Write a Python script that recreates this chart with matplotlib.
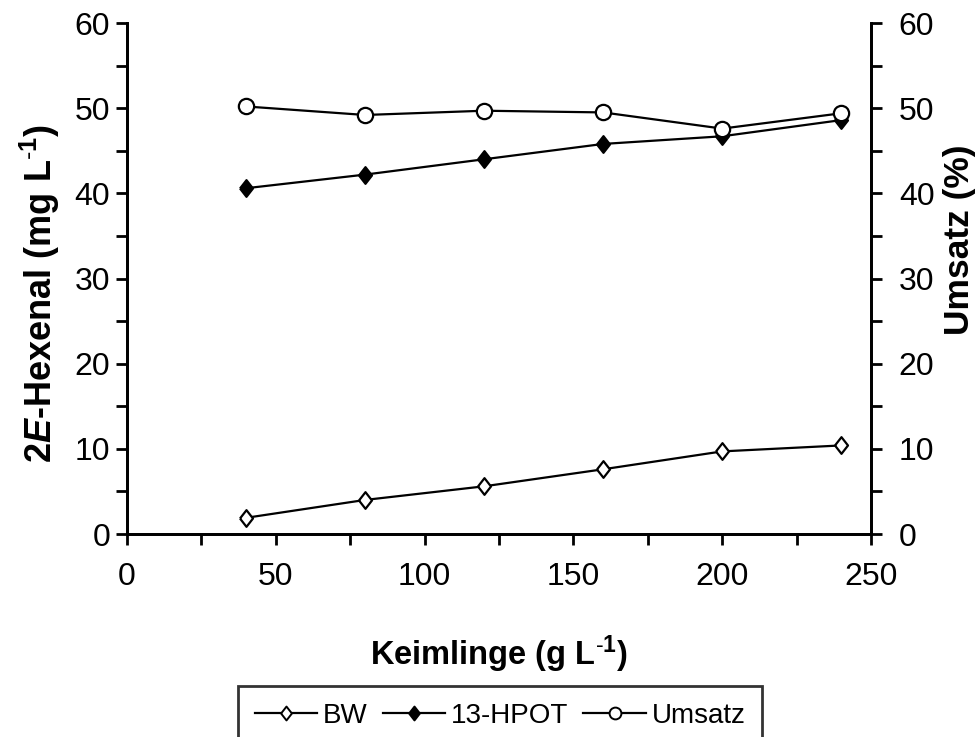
import matplotlib
matplotlib.use("Agg")
import matplotlib.pyplot as plt
from matplotlib.ticker import MultipleLocator
from matplotlib.lines import Line2D

plt.rcParams['font.family'] = ['Liberation Sans', 'DejaVu Sans']
plt.rcParams['mathtext.fontset'] = 'custom'
plt.rcParams['mathtext.rm'] = 'Liberation Sans'
plt.rcParams['mathtext.bf'] = 'Liberation Sans:bold'
plt.rcParams['mathtext.it'] = 'Liberation Sans:italic'
plt.rcParams['mathtext.bfit'] = 'Liberation Sans:bold:italic'

keimlinge = [40, 80, 120, 160, 200, 240]
bw = [1.9, 4.0, 5.6, 7.6, 9.7, 10.4]
hpot = [40.6, 42.2, 44.0, 45.8, 46.7, 48.6]
umsatz = [50.2, 49.2, 49.7, 49.5, 47.6, 49.4]

W, H = 979, 737
fig = plt.figure(figsize=(W/100, H/100), dpi=100)
ax = fig.add_axes([127/W, 1-534/H, (871-127)/W, (534-23)/H])
ax2 = ax.twinx()

diamond = [(-0.78, 0), (0, 1), (0.78, 0), (0, -1), (-0.78, 0)]
lw = 1.6
l1, = ax.plot(keimlinge, bw, color='black', lw=lw, marker=diamond, ms=12,
              mfc='white', mec='black', mew=1.6, label='BW')
l2, = ax.plot(keimlinge, hpot, color='black', lw=lw, marker=diamond, ms=12,
              mfc='black', mec='black', mew=1.6, label='13-HPOT')
l3, = ax2.plot(keimlinge, umsatz, color='black', lw=lw, marker='o', ms=11,
               mfc='white', mec='black', mew=1.6, label='Umsatz')

for a in (ax, ax2):
    a.set_ylim(0, 60)
    a.yaxis.set_major_locator(MultipleLocator(10))
    a.yaxis.set_minor_locator(MultipleLocator(5))
    for s in a.spines.values():
        s.set_linewidth(2)
    a.tick_params(which='both', direction='out', width=2, labelsize=23)
    a.tick_params(which='major', length=8)
    a.tick_params(which='minor', length=8)
ax.set_xlim(0, 250)
ax.xaxis.set_major_locator(MultipleLocator(50))
ax.xaxis.set_minor_locator(MultipleLocator(25))
ax.tick_params(axis='x', pad=12)
ax.tick_params(axis='y', pad=4)
ax2.tick_params(axis='y', pad=12)
ax.spines['top'].set_visible(False)
ax2.spines['top'].set_visible(False)

sup = r'$^{\mathbf{\text{-}1}}$'
ax.set_xlabel('Keimlinge (g L' + sup + ')', fontsize=23.5, fontweight='bold', labelpad=30)
ax.set_ylabel(r'2$\mathbfit{E}$-Hexenal (mg L' + sup + ')', fontsize=26, fontweight='bold', labelpad=9)
ax2.set_ylabel('Umsatz (%)', fontsize=25.5, fontweight='bold', rotation=90, labelpad=6)
ax.yaxis.label.set_y(0.47)
ax2.yaxis.label.set_y(0.575)

handles = [
    Line2D([], [], color='black', lw=1.6, marker=diamond, ms=10, mfc='white', mec='black', mew=1.4),
    Line2D([], [], color='black', lw=1.6, marker=diamond, ms=10, mfc='black', mec='black', mew=1.4),
    Line2D([], [], color='black', lw=1.6, marker='o', ms=8.5, mfc='white', mec='black', mew=1.4),
]
leg = fig.legend(handles, ['BW', '13-HPOT', 'Umsatz'], loc='upper center',
                 bbox_to_anchor=(500/W, 1-686/H), ncol=3, fontsize=20,
                 frameon=True, fancybox=False, edgecolor='black',
                 handlelength=2.25, handletextpad=0.2, columnspacing=0.55,
                 borderpad=0.6, borderaxespad=0)
leg.get_frame().set_linewidth(2)

fig.savefig('out.png', dpi=100)
